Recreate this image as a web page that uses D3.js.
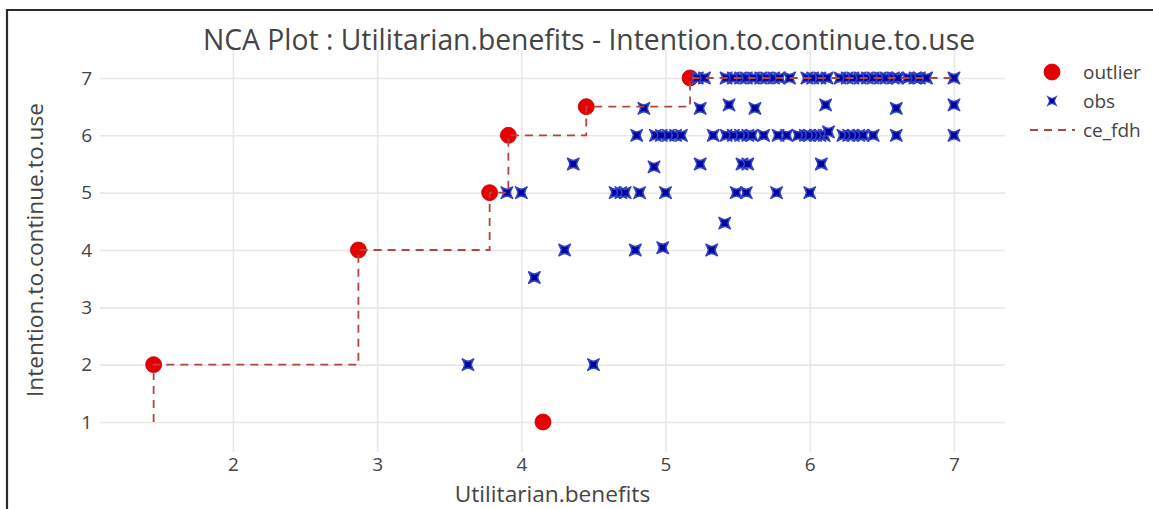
<!DOCTYPE html>
<html>
<head>
<meta charset="utf-8">
<script src="https://cdn.jsdelivr.net/npm/d3@7"></script>
<style>
  html, body { margin: 0; padding: 0; background: #fff; }
  svg { display: block; font-family: "Open Sans", Verdana, Arial, sans-serif; }
</style>
</head>
<body>
<svg id="chart" width="1153" height="509"></svg>
<script>
// Axis ticks
const xTicks = [2, 3, 4, 5, 6, 7];
const yTicks = [1, 2, 3, 4, 5, 6, 7];

// Outlying observations
const outlierX = [1.45, 2.87, 3.78, 3.91, 4.45, 5.17, 4.15];
const outlierY = [2, 4, 5, 6, 6.5, 7, 1];

// Observations (x = Utilitarian.benefits, y = Intention.to.continue.to.use)
const obsX = [
  // y = 7
  5.22, 5.27, 5.42, 5.47, 5.52, 5.56, 5.61, 5.66, 5.70, 5.75, 5.79, 5.86, 5.98, 6.02, 6.07, 6.12,
  6.21, 6.26, 6.30, 6.35, 6.40, 6.44, 6.49, 6.53, 6.58, 6.61, 6.68, 6.73, 6.76, 6.81, 7.00,
  // y ~ 6.5
  4.85, 5.24, 5.44, 5.62, 6.11, 6.60, 7.00,
  // y = 6
  4.80, 4.93, 4.97, 5.02, 5.07, 5.11, 5.33, 5.42, 5.47, 5.52, 5.57, 5.60, 5.68, 5.78, 5.84, 5.92,
  5.97, 6.00, 6.04, 6.07, 6.10, 6.13, 6.23, 6.27, 6.30, 6.34, 6.37, 6.44, 6.60, 7.00,
  // y ~ 5.5
  4.36, 4.92, 5.24, 5.53, 5.57, 6.08,
  // y = 5
  3.90, 4.00, 4.65, 4.69, 4.72, 4.82, 5.00, 5.49, 5.56, 5.77, 6.00,
  // lower values
  5.41, 4.30, 4.79, 4.98, 5.32, 4.09, 3.63, 4.50
];
const obsY = [
  7, 7, 7, 7, 7, 7, 7, 7, 7, 7, 7, 7, 7, 7, 7, 7,
  7, 7, 7, 7, 7, 7, 7, 7, 7, 7, 7, 7, 7, 7, 7,
  6.47, 6.47, 6.53, 6.47, 6.53, 6.47, 6.53,
  6, 6, 6, 6, 6, 6, 6, 6, 6, 6, 6, 6, 6, 6, 6, 6,
  6, 6, 6, 6, 6, 6.06, 6, 6, 6, 6, 6, 6, 6, 6,
  5.5, 5.45, 5.5, 5.5, 5.5, 5.5,
  5, 5, 5, 5, 5, 5, 5, 5, 5, 5, 5,
  4.47, 4, 4, 4.04, 4, 3.52, 2, 2
];

// CE-FDH ceiling step line
const ceX = [1.45, 1.45, 2.87, 2.87, 3.78, 3.78, 3.91, 3.91, 4.45, 4.45, 5.17, 5.17, 7.00];
const ceY = [1, 2, 2, 4, 4, 5, 5, 6, 6, 6.5, 6.5, 7, 7];

const legendLabels = ["outlier", "obs", "ce_fdh"];

const titleText = "NCA Plot : Utilitarian.benefits - Intention.to.continue.to.use";
const xTitle = "Utilitarian.benefits";
const yTitle = "Intention.to.continue.to.use";

// Layout
const plot = { left: 100, right: 1005, top: 50, bottom: 452 };
const colors = {
  outlier: "#e80000", outlierLine: "#c40000",
  obs: "#00009c", obsLine: "#2f43c4",
  ce: "#b0463f", grid: "#e8e8e8", text: "#444"
};
const fontSizes = { title: 28.3, axisTitle: 22.7, tick: 19, legend: 19 };

const svg = d3.select("#chart");

const x = d3.scaleLinear().domain([1.078, 7.354]).range([plot.left, plot.right]);
const y = d3.scaleLinear().domain([0.477, 7.488]).range([plot.bottom, plot.top]);

// Outer frame
svg.append("path")
  .attr("d", `M7,509 V10 H1153`)
  .attr("fill", "none")
  .attr("stroke", "#2b2b2b")
  .attr("stroke-width", 2.2);

// Gridlines and tick labels via axes
const gx = svg.append("g")
  .attr("transform", `translate(0,${plot.bottom})`)
  .call(d3.axisBottom(x).tickValues(xTicks).tickSize(-(plot.bottom - plot.top)).tickFormat(d3.format("d")).tickPadding(5));
gx.select(".domain").remove();
gx.selectAll(".tick line").attr("stroke", colors.grid).attr("stroke-width", 1.6);
gx.selectAll(".tick text").attr("fill", colors.text).attr("font-size", fontSizes.tick).attr("font-family", "Open Sans");

const gy = svg.append("g")
  .attr("transform", `translate(${plot.left},0)`)
  .call(d3.axisLeft(y).tickValues(yTicks).tickSize(-(plot.right - plot.left)).tickFormat(d3.format("d")).tickPadding(8));
gy.select(".domain").remove();
gy.selectAll(".tick line").attr("stroke", colors.grid).attr("stroke-width", 1.6);
gy.selectAll(".tick text").attr("fill", colors.text).attr("font-size", fontSizes.tick).attr("font-family", "Open Sans");

// Plotly-style "star-square" symbol
function starSquare(r) {
  const rp = r * 1.1, rs = r * 0.5;
  return `M${-rp},${-rp}C${-rs},0 ${-rs},0 ${-rp},${rp}` +
         `C0,${rs} 0,${rs} ${rp},${rp}` +
         `C${rs},0 ${rs},0 ${rp},${-rp}` +
         `C0,${-rs} 0,${-rs} ${-rp},${-rp}Z`;
}

const plotG = svg.append("g");

// Outliers
plotG.append("g").selectAll("circle")
  .data(d3.range(outlierX.length))
  .join("circle")
  .attr("cx", i => x(outlierX[i]))
  .attr("cy", i => y(outlierY[i]))
  .attr("r", 8)
  .attr("fill", colors.outlier)
  .attr("stroke", colors.outlierLine)
  .attr("stroke-width", 0.8);

// Observations
plotG.append("g").selectAll("path")
  .data(d3.range(obsX.length))
  .join("path")
  .attr("transform", i => `translate(${x(obsX[i])},${y(obsY[i])})`)
  .attr("d", starSquare(5.2))
  .attr("fill", colors.obs)
  .attr("stroke", colors.obsLine)
  .attr("stroke-width", 1.6)
  .attr("stroke-linejoin", "round");

// Ceiling line
const line = d3.line().x(i => x(ceX[i])).y(i => y(ceY[i]));
plotG.append("path")
  .datum(d3.range(ceX.length))
  .attr("d", line)
  .attr("fill", "none")
  .attr("stroke", colors.ce)
  .attr("stroke-width", 1.8)
  .attr("stroke-dasharray", "8,6");

// Titles
svg.append("text")
  .attr("x", 589).attr("y", 50)
  .attr("text-anchor", "middle")
  .attr("fill", colors.text)
  .attr("font-size", fontSizes.title)
  .text(titleText);

svg.append("text")
  .attr("x", (plot.left + plot.right) / 2).attr("y", 502)
  .attr("text-anchor", "middle")
  .attr("fill", colors.text)
  .attr("font-size", fontSizes.axisTitle)
  .text(xTitle);

svg.append("text")
  .attr("transform", `translate(43,250) rotate(-90)`)
  .attr("text-anchor", "middle")
  .attr("fill", colors.text)
  .attr("font-size", fontSizes.axisTitle)
  .text(yTitle);

// Legend
const legend = svg.append("g").attr("transform", "translate(1030,72)");
const items = legend.selectAll("g")
  .data(legendLabels)
  .join("g")
  .attr("transform", (d, i) => `translate(0,${i * 29})`);

items.each(function (d, i) {
  const g = d3.select(this);
  if (i === 0) {
    g.append("circle").attr("cx", 22).attr("cy", 0).attr("r", 8)
      .attr("fill", colors.outlier).attr("stroke", colors.outlierLine).attr("stroke-width", 0.8);
  } else if (i === 1) {
    g.append("path").attr("transform", "translate(22,0)").attr("d", starSquare(3.8))
      .attr("fill", colors.obs).attr("stroke", colors.obsLine).attr("stroke-width", 1.2);
  } else {
    g.append("line").attr("x1", 0).attr("x2", 45).attr("y1", 0).attr("y2", 0)
      .attr("stroke", colors.ce).attr("stroke-width", 1.8).attr("stroke-dasharray", "8,6");
  }
  g.append("text").attr("x", 53).attr("y", 0).attr("dy", "0.35em")
    .attr("fill", colors.text).attr("font-size", fontSizes.legend).text(d);
});
</script>
</body>
</html>
